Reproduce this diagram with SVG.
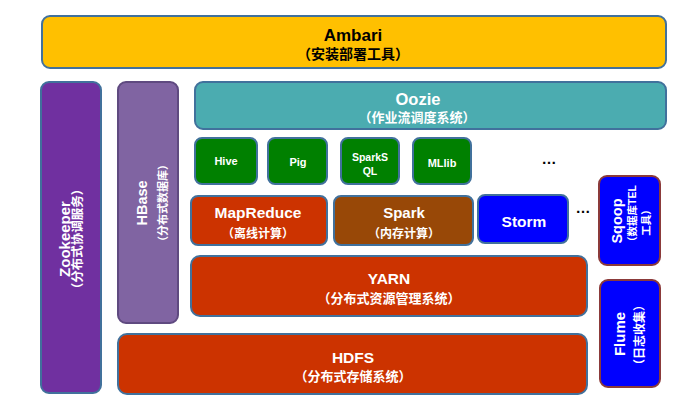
<svg xmlns="http://www.w3.org/2000/svg" width="687" height="401" viewBox="0 0 687 401">
<style>
text{font-family:"Liberation Sans","Noto Sans CJK SC",sans-serif;font-weight:bold;text-anchor:middle;fill:#fff}
.box{stroke:#41719C;stroke-width:2}
.ambari{fill:#FFC000}
.zk{fill:#7030A0}
.hb{fill:#8064A2;stroke:#5F4A80}
.oozie{fill:#4BACB0}
.green{fill:#008000}
.red{fill:#CC3300}
.spark{fill:#984807}
.blue{fill:#0000FF}
.side{fill:#0000FF;stroke:#8B3A3A;stroke-width:2}
.dark{fill:#000}
.dots{fill:#000;font-size:15px}
</style>
<rect width="687" height="401" fill="#fff"/>
<g id="ambari">
<rect class="box ambari" x="42" y="16" width="624" height="52" rx="8"/>
<text class="dark" x="353" y="41" font-size="17">Ambari</text>
<text class="dark" x="353" y="59" font-size="14">（安装部署工具）</text>
</g>
<g id="zookeeper">
<rect class="box zk" x="41" y="82" width="60" height="311" rx="8"/>
<text transform="translate(70,239) rotate(-90)" font-size="15">Zookeeper</text>
<text transform="translate(82,239) rotate(-90)" font-size="12.5">（分布式协调服务）</text>
</g>
<g id="hbase">
<rect class="box hb" x="118" y="82" width="60" height="241" rx="8"/>
<text transform="translate(147,203) rotate(-90)" font-size="14.5">HBase</text>
<text transform="translate(167,203) rotate(-90)" font-size="11">（分布式数据库）</text>
</g>
<g id="oozie">
<rect class="box oozie" x="195" y="82" width="471" height="47" rx="8"/>
<text x="418" y="105" font-size="16.5">Oozie</text>
<text x="417" y="122" font-size="13">（作业流调度系统）</text>
</g>
<g id="hive">
<rect class="box green" x="195" y="138" width="62" height="46" rx="7"/>
<text x="226" y="165" font-size="11">Hive</text>
</g>
<g id="pig">
<rect class="box green" x="268" y="138" width="59" height="46" rx="7"/>
<text x="298" y="166" font-size="11">Pig</text>
</g>
<g id="sparksql">
<rect class="box green" x="341" y="138" width="58" height="46" rx="7"/>
<text x="370" y="161" font-size="10.5">SparkS</text>
<text x="370" y="175" font-size="10.5">QL</text>
</g>
<g id="mllib">
<rect class="box green" x="413" y="138" width="58" height="46" rx="7"/>
<text x="442" y="167" font-size="11">MLlib</text>
</g>
<text class="dots" x="549" y="164">…</text>
<g id="mapreduce">
<rect class="box red" x="191" y="196" width="136" height="49" rx="7"/>
<text x="258" y="218" font-size="15.5">MapReduce</text>
<text x="258" y="238" font-size="12">（离线计算）</text>
</g>
<g id="spark">
<rect class="box spark" x="334" y="196" width="139" height="49" rx="7"/>
<text x="404" y="218" font-size="15">Spark</text>
<text x="404" y="238" font-size="12">（内存计算）</text>
</g>
<g id="storm">
<rect class="box blue" x="478" y="195" width="90" height="48" rx="7"/>
<text x="524" y="227" font-size="15.5">Storm</text>
</g>
<text class="dots" x="583" y="213">…</text>
<g id="sqoop">
<rect class="side" x="599" y="176" width="61" height="89" rx="8"/>
<text transform="translate(622,221) rotate(-90)" font-size="14.5">Sqoop</text>
<text transform="translate(636,216) rotate(-90)" font-size="10.5">（数据库TEL</text>
<text transform="translate(650,220) rotate(-90)" font-size="10.5">工具）</text>
</g>
<g id="flume">
<rect class="side" x="600" y="280" width="60" height="107" rx="8"/>
<text transform="translate(625,334) rotate(-90)" font-size="15">Flume</text>
<text transform="translate(644,335) rotate(-90)" font-size="12">（日志收集）</text>
</g>
<g id="yarn">
<rect class="box red" x="191" y="256" width="396" height="60" rx="9"/>
<text x="389" y="284" font-size="15.5">YARN</text>
<text x="389" y="303" font-size="13">（分布式资源管理系统）</text>
</g>
<g id="hdfs">
<rect class="box red" x="118" y="334" width="469" height="60" rx="9"/>
<text x="353" y="363" font-size="15.5">HDFS</text>
<text x="353" y="381" font-size="13">（分布式存储系统）</text>
</g>
<g id="connectors"/>
</svg>
